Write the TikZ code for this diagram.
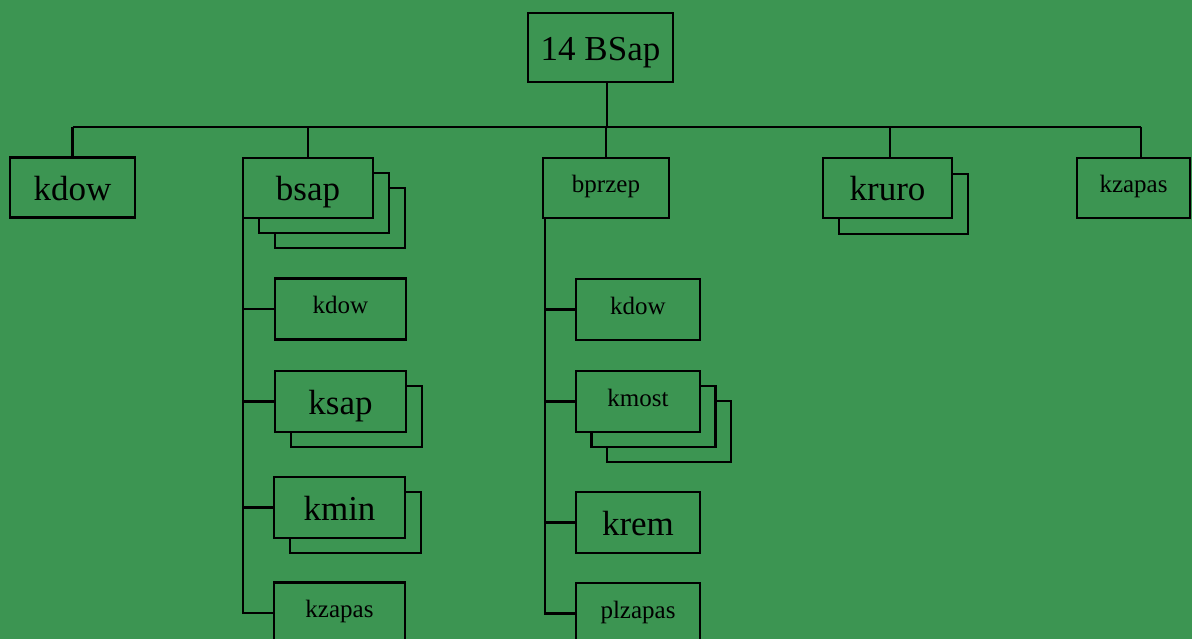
\documentclass[tikz,border=0pt]{standalone}
\usepackage{fontspec}
\setmainfont{Liberation Serif}
\definecolor{bg}{RGB}{60,149,82}
\tikzset{
  box/.style={draw=black, line width=2.9pt, fill=bg, inner sep=0pt, text=black},
  big/.style={font=\fontsize{35}{35}\selectfont, text height=26pt, text depth=0pt},
  small/.style={font=\fontsize{25}{25}\selectfont, text height=9pt, text depth=0pt},
  topbox/.style={box, minimum height=60pt},
  kidA/.style={box, minimum width=131pt, minimum height=61pt},
  kidB/.style={box, minimum width=124pt, minimum height=61pt},
  wire/.style={draw=black, line width=2.9pt}
}
\begin{document}
\begin{tikzpicture}[x=1pt,y=-1pt]
\useasboundingbox (0,0) rectangle (1192,639);
\clip (0,0) rectangle (1192,639);
\fill[bg] (0,0) rectangle (1192,639);

% root
\node[box, big, minimum width=145pt, minimum height=69pt] (root) at (600.5,47.5) {14 BSap};

% top level (copies first)
\node[topbox, minimum width=130pt] (bsapc2) at (340,218) {};
\node[topbox, minimum width=130pt] (bsapc1) at (324,203) {};
\node[topbox, big, minimum width=130pt] (bsap) at (308,188) {bsap};

\node[topbox, big, minimum width=125pt] (kdow) at (72.5,187.5) {kdow};
\node[topbox, small, minimum width=126pt] (bprzep) at (606,188) {bprzep};

\node[topbox, minimum width=129pt] (kruroc1) at (903.5,204) {};
\node[topbox, big, minimum width=129pt] (kruro) at (887.5,188) {kruro};

\node[topbox, small, minimum width=113pt] (kzapas) at (1133.5,188) {kzapas};

% bus
\coordinate (bus) at (607,127);
\coordinate (kzdrop) at (1141,127);
\coordinate (krdrop) at (890,127);
\draw[wire] (root.south -| bus) -- (bus);
\draw[wire] (kdow.north |- bus) -- (kzdrop);
\foreach \n in {kdow,bsap,bprzep}
  \draw[wire] (\n.north |- bus) -- (\n.north);
\draw[wire] (krdrop) -- (krdrop |- kruro.north);
\draw[wire] (kzdrop) -- (kzdrop |- kzapas.north);

% bsap children
\node[kidA, small] (bkdow) at (340.5,309) {kdow};
\node[kidA] (ksapc1) at (356.5,416.5) {};
\node[kidA, big] (ksap) at (340.5,401.5) {ksap};
\node[kidA] (kminc1) at (355.5,522.5) {};
\node[kidA, big] (kmin) at (339.5,507.5) {kmin};
\node[kidA, small] (bkzapas) at (339.5,613) {kzapas};

\coordinate (bline) at (243,218);
\draw[wire] (bline) -- (bline |- bkzapas.west) -- (bkzapas.west);
\foreach \n in {bkdow,ksap,kmin}
  \draw[wire] (bline |- \n.west) -- (\n.west);

% bprzep children
\node[kidB, small] (pkdow) at (638,309.5) {kdow};
\node[kidB] (kmostc2) at (669,431.5) {};
\node[kidB] (kmostc1) at (653.5,416.5) {};
\node[kidB, small] (kmost) at (638,401.5) {kmost};
\node[kidB, big] (krem) at (638,522.5) {krem};
\node[kidB, small] (plzapas) at (638,613.5) {plzapas};

\coordinate (pline) at (545,218);
\draw[wire] (pline) -- (pline |- plzapas.west) -- (plzapas.west);
\foreach \n in {pkdow,kmost,krem}
  \draw[wire] (pline |- \n.west) -- (\n.west);
\end{tikzpicture}
\end{document}
